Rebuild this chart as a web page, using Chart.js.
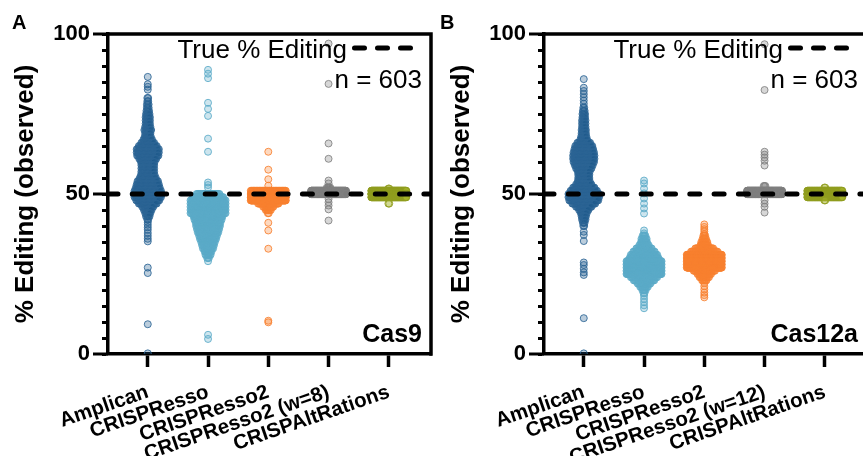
<!DOCTYPE html>
<html>
<head>
<meta charset="utf-8">
<script src="https://cdn.jsdelivr.net/npm/chart.js@4"></script>
<style>
html,body{margin:0;padding:0;background:#fff;overflow:hidden;width:863px;height:456px;}
canvas{position:absolute;top:0;}
#cas9{left:0;}
#cas12a{left:436px;}
</style>
</head>
<body>
<canvas id="cas9" width="440" height="456"></canvas>
<canvas id="cas12a" width="440" height="456"></canvas>
<script>
/* Observed vs true % editing, 603 amplicons per tool */
const cas9Tools = ['Amplican','CRISPResso','CRISPResso2','CRISPResso2 (w=8)','CRISPAltRations'];
const cas12aTools = ['Amplican','CRISPResso','CRISPResso2','CRISPResso2 (w=12)','CRISPAltRations'];
const trueEditing = 50;
const nAmplicons = 603;
const yMinorTicks = [0,5,10,15,20,25,30,35,40,45,50,55,60,65,70,75,80,85,90,95,100];
const yLabelTicks = [0,50,100];

// [observed % editing, number of amplicons]
const cas9Amplican = [[86.6,1],[84.3,1],[83.5,1],[82.6,1],[80,2],[79,2],[78,3],[77,3],[76,4],[75,5],[74,6],[73,6],[72,6],[71,7],[70,9],[69,7],[68,8],[67,11],[66,16],[65,22],[64,27],[63,27],[62,26],[61,21],[60,17],[59,16],[58,16],[57,16],[56,17],[55,20],[54,25],[53,27],[52,29],[51,32],[50,34],[49,32],[48,28],[47,22],[46,14],[45,10],[44,7],[43,5],[42,2],[41.2,1],[40.4,1],[39.6,1],[38.8,1],[37.8,1],[36.9,1],[36.0,1],[35.2,1],[27.0,1],[25.3,1],[9.3,1],[0.2,1]];
const cas9CRISPResso = [[88.8,1],[87.6,1],[86.2,1],[78.5,1],[76.6,1],[74.4,1],[67.3,1],[63.2,1],[53.6,1],[52.8,1],[52.0,1],[50,28],[49,37],[48,49],[47,49],[46,49],[45,47],[44,45],[43,35],[42,33],[41,30],[40,29],[39,27],[38,25],[37,22],[36,20],[35,17],[34,15],[33,13],[32,9],[31,7],[30,3],[29,1],[6.0,1],[4.7,1]];
const cas9CRISPResso2 = [[63.2,1],[57.6,1],[54.6,1],[52.6,1],[51,60],[50,197],[49,190],[48,100],[47,25],[46,13],[45,7],[44,2],[41.0,1],[38.6,1],[32.9,1],[10.4,1],[9.9,1]];
const cas9Window = [[97.0,1],[84.4,1],[65.8,1],[61.0,1],[54.2,1],[53.3,1],[52,5],[51,160],[50,427],[48.4,1],[47.4,1],[46.4,1],[45.2,1],[41.7,1]];
const cas9AltRations = [[51.7,2],[51,150],[50,302],[49,147],[47,2]];

const cas12aAmplican = [[85.9,1],[83.2,1],[82.2,1],[81.2,1],[80.2,1],[79.2,1],[78.2,1],[77,2],[76,3],[75,4],[74,4],[73,5],[72,5],[71,5],[70,6],[69,6],[68,7],[67,9],[66,16],[65,21],[64,23],[63,25],[62,26],[61,26],[60,25],[59,22],[58,19],[57,15],[56,14],[55,14],[54,15],[53,19],[52,26],[51,32],[50,37],[49,37],[48,35],[47,28],[46,19],[45,12],[44,8],[43,6],[42,5],[41,3],[40,2],[38.2,1],[37.2,1],[35.3,1],[28.6,1],[27.8,1],[26.6,1],[25.5,1],[24.7,1],[11.2,1],[0.2,1]];
const cas12aCRISPResso = [[54.2,1],[53.3,1],[51.7,1],[50.2,1],[48.6,1],[47.0,1],[45.5,1],[43.9,1],[38.6,1],[37.7,1],[37,4],[36,7],[35,8],[34,12],[33,19],[32,26],[31,32],[30,35],[29,69],[28,72],[27,73],[26,72],[25,69],[24,32],[23,25],[22,16],[21,10],[20,5],[19,2],[18.2,1],[17.2,1],[16.2,1],[15.2,1],[14.3,1]];
const cas12aCRISPResso2 = [[40.5,1],[39.7,1],[39.0,1],[38.3,1],[37.5,1],[37,3],[36,5],[35,8],[34,10],[33,22],[32,32],[31,88],[30,92],[29,92],[28,91],[27,88],[26,26],[25,17],[24,12],[23,6],[22.2,1],[21.2,1],[20.2,1],[19.2,1],[18.4,1],[17.7,1]];
const cas12aWindow = [[96.8,1],[82.5,1],[63.2,1],[62.3,1],[61.4,1],[60.4,1],[58.9,1],[52.5,3],[51,180],[50,409],[48.0,1],[47.0,1],[46.0,1],[44.2,1]];
const cas12aAltRations = [[52,2],[51,120],[50,360],[49,119],[48,2]];

const toolFill = ['#1d5b8c','#5aaac8','#f8802f','#7b7b7b','#a6b32b'];
const toolEdge = ['#2d6595','#5aaac8','#f8802f','#808080','#8f9c1e'];

const FONT = '"Liberation Sans", Arial, sans-serif';
const X_MIN = -0.66, X_MAX = 4.70;
const PX_PER_UNIT = 323 / (X_MAX - X_MIN);
const ROW_STEP = 0.85, ROW_CAP = 35; // px between dots in a row, max row spread

function rgba(hex, a){
  const n = parseInt(hex.slice(1), 16);
  return `rgba(${n>>16},${(n>>8)&255},${n&255},${a})`;
}

// lay each row of equal values out sideways, like a swarm
function swarm(bins, cat){
  const pts = [];
  bins.forEach(([v, n]) => {
    const s = n > 1 ? Math.min(ROW_STEP, ROW_CAP/(n-1)) : 0;
    for(let i=0;i<n;i++) pts.push({x: cat + (i-(n-1)/2)*s/PX_PER_UNIT, y: v});
  });
  return pts;
}

const panelDecor = {
  id:'panel',
  afterDraw(chart, args, opts){
    const {ctx, chartArea:a, scales:{y}} = chart;
    ctx.save();
    ctx.strokeStyle = '#000';
    ctx.lineWidth = 3.5; ctx.lineCap = 'square';
    ctx.beginPath(); ctx.moveTo(a.left, a.top); ctx.lineTo(a.right, a.top); ctx.lineTo(a.right, a.bottom); ctx.stroke();
    ctx.lineWidth = 3; ctx.lineCap = 'butt';
    yLabelTicks.forEach(v => {
      const py = y.getPixelForValue(v);
      ctx.beginPath(); ctx.moveTo(a.left-15, py); ctx.lineTo(a.left, py); ctx.stroke();
    });
    ctx.fillStyle = '#000'; ctx.textAlign = 'right'; ctx.textBaseline = 'alphabetic';
    ctx.font = '26px ' + FONT;
    ctx.fillText('True % Editing', a.right-84, a.top+24);
    ctx.fillText('n = ' + nAmplicons, a.right-9, a.top+54);
    ctx.lineWidth = 5; ctx.lineCap = 'round'; ctx.setLineDash([10,13]);
    ctx.beginPath(); ctx.moveTo(a.right-76.5, a.top+14); ctx.lineTo(a.right-20.5, a.top+14); ctx.stroke();
    ctx.setLineDash([]);
    ctx.font = 'bold 25px ' + FONT;
    ctx.fillText(opts.tag, a.right-9, a.bottom-12);
    ctx.textAlign = 'left'; ctx.font = 'bold 20px ' + FONT;
    ctx.fillText(opts.letter, opts.letterX, 29);
    ctx.restore();
  }
};

function makePanel(id, tools, groups, letter, letterX, tag){
  const datasets = [{
    type:'line', label:'True % Editing',
    data:[{x:X_MIN, y:trueEditing},{x:X_MAX, y:trueEditing}],
    borderColor:'#000', borderWidth:5, borderDash:[10,14.3], borderCapStyle:'round',
    pointRadius:0, order:0
  }];
  groups.forEach((g, i) => {
    datasets.push({
      type:'scatter', label:tools[i], data:swarm(g, i),
      pointRadius:3.5, borderWidth:1,
      backgroundColor:rgba(toolFill[i], .3), pointBorderColor:rgba(toolEdge[i], .85),
      borderColor:rgba(toolEdge[i], .85), order:1
    });
  });
  return new Chart(document.getElementById(id), {
    data:{datasets},
    plugins:[panelDecor],
    options:{
      responsive:false, animation:false, events:[],
      layout:{padding:{top:34, right:9, left:0, bottom:0}},
      plugins:{legend:{display:false}, tooltip:{enabled:false}, panel:{letter, letterX, tag}},
      scales:{
        x:{type:'linear', min:X_MIN, max:X_MAX,
          afterFit: s => { s.height = 102; },
          afterBuildTicks: s => { s.ticks = tools.map((t, i) => ({value:i})); },
          ticks:{autoSkip:false, minRotation:19, maxRotation:19, padding:13, color:'#000',
            font:{family:FONT, size:20.5, weight:'bold'}, callback: v => tools[v]},
          grid:{drawOnChartArea:false, tickLength:13, tickWidth:3.5, tickColor:'#000'},
          border:{color:'#000', width:3.5}},
        y:{type:'linear', min:0, max:100,
          afterFit: s => { s.width = 108; },
          afterBuildTicks: s => { s.ticks = yMinorTicks.map(v => ({value:v})); },
          ticks:{autoSkip:false, padding:12, color:'#000',
            font:{family:FONT, size:22, weight:'bold'}, callback: v => yLabelTicks.includes(v) ? v : ''},
          grid:{drawOnChartArea:false, tickLength:6, tickWidth:3, tickColor:'#000'},
          border:{color:'#000', width:3.5},
          title:{display:true, text:'% Editing (observed)', color:'#000',
            font:{family:FONT, size:26, weight:'bold'}, padding:{top:10, bottom:0}}}
      }
    }
  });
}

makePanel('cas9', cas9Tools, [cas9Amplican, cas9CRISPResso, cas9CRISPResso2, cas9Window, cas9AltRations], 'A', 12, 'Cas9');
makePanel('cas12a', cas12aTools, [cas12aAmplican, cas12aCRISPResso, cas12aCRISPResso2, cas12aWindow, cas12aAltRations], 'B', 4, 'Cas12a');
</script>
</body>
</html>
